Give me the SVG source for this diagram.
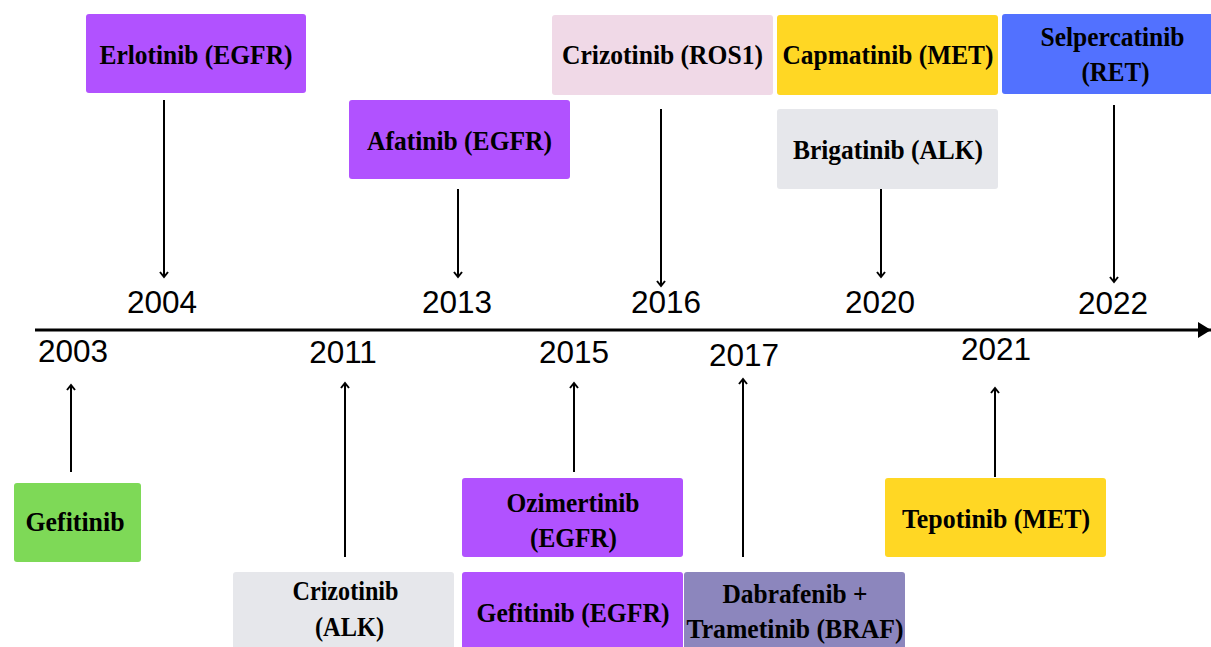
<svg xmlns="http://www.w3.org/2000/svg" width="1211" height="647" viewBox="0 0 1211 647">
<style>
.box{stroke:none}
.lbl{font-family:"Liberation Serif","Times New Roman",serif;font-weight:bold;font-size:27px;fill:#000;text-anchor:middle}
.yr{font-family:"Liberation Sans",Arial,sans-serif;font-size:31.5px;fill:#000;text-anchor:middle}
.conn{stroke:#000;stroke-width:2;fill:none;marker-end:url(#chev)}
.purple{fill:#b152ff}.green{fill:#7ed957}.yellow{fill:#ffd724}.blue{fill:#5271ff}.pink{fill:#f0d9e7}.gray{fill:#e6e7eb}.lav{fill:#8c86bd}
</style>
<defs>
<marker id="chev" markerUnits="userSpaceOnUse" markerWidth="12" markerHeight="12" refX="6" refY="5" orient="auto">
<path d="M1,1 L6,5 L1,9" fill="none" stroke="#000" stroke-width="2"/>
</marker>
<marker id="tri" markerUnits="userSpaceOnUse" markerWidth="14" markerHeight="16" refX="13" refY="8" orient="auto">
<path d="M0,0 L13,8 L0,16 Z" fill="#000"/>
</marker>
</defs>
<rect width="1211" height="647" fill="#fff"/>

<g id="connectors">
<line x1="35" y1="330" x2="1211" y2="330" stroke="#000" stroke-width="3" marker-end="url(#tri)"/>
<line class="conn" x1="164" y1="100" x2="164" y2="277"/>
<line class="conn" x1="458" y1="189" x2="458" y2="277"/>
<line class="conn" x1="661" y1="109" x2="661" y2="286"/>
<line class="conn" x1="881" y1="189" x2="881" y2="277"/>
<line class="conn" x1="1114" y1="105" x2="1114" y2="282"/>
<line class="conn" x1="71" y1="472" x2="71" y2="385"/>
<line class="conn" x1="345" y1="557" x2="345" y2="383"/>
<line class="conn" x1="574" y1="472" x2="574" y2="383"/>
<line class="conn" x1="743" y1="557" x2="743" y2="379"/>
<line class="conn" x1="995" y1="477" x2="995" y2="388"/>
</g>

<g id="years">
<text class="yr" x="162" y="313">2004</text>
<text class="yr" x="457" y="313">2013</text>
<text class="yr" x="666" y="313">2016</text>
<text class="yr" x="880" y="313">2020</text>
<text class="yr" x="1113" y="314">2022</text>
<text class="yr" x="73" y="362">2003</text>
<text class="yr" x="343" y="363">2011</text>
<text class="yr" x="574" y="363">2015</text>
<text class="yr" x="744" y="366">2017</text>
<text class="yr" x="996" y="360">2021</text>
</g>

<g id="erlotinib">
<rect class="box purple" x="86" y="14" width="220" height="79" rx="3"/>
<text class="lbl" x="196" y="64" textLength="193" lengthAdjust="spacingAndGlyphs">Erlotinib (EGFR)</text>
</g>
<g id="afatinib">
<rect class="box purple" x="349" y="100" width="221" height="79" rx="3"/>
<text class="lbl" x="459.5" y="150" textLength="185" lengthAdjust="spacingAndGlyphs">Afatinib (EGFR)</text>
</g>
<g id="crizotinib-ros1">
<rect class="box pink" x="552" y="15" width="221" height="80" rx="3"/>
<text class="lbl" x="662.5" y="64" textLength="201" lengthAdjust="spacingAndGlyphs">Crizotinib (ROS1)</text>
</g>
<g id="capmatinib">
<rect class="box yellow" x="777" y="15" width="221" height="80" rx="3"/>
<text class="lbl" x="888" y="64" textLength="211" lengthAdjust="spacingAndGlyphs">Capmatinib (MET)</text>
</g>
<g id="selpercatinib">
<rect class="box blue" x="1002" y="14" width="212" height="80" rx="3"/>
<text class="lbl" x="1112.5" y="46" textLength="144" lengthAdjust="spacingAndGlyphs">Selpercatinib</text>
<text class="lbl" x="1115.5" y="81" textLength="68" lengthAdjust="spacingAndGlyphs">(RET)</text>
</g>
<g id="brigatinib">
<rect class="box gray" x="777" y="109" width="221" height="80" rx="3"/>
<text class="lbl" x="888" y="159" textLength="190" lengthAdjust="spacingAndGlyphs">Brigatinib (ALK)</text>
</g>
<g id="gefitinib">
<rect class="box green" x="14" y="483" width="127" height="79" rx="3"/>
<text class="lbl" x="75" y="531" textLength="99" lengthAdjust="spacingAndGlyphs">Gefitinib</text>
</g>
<g id="crizotinib-alk">
<rect class="box gray" x="233" y="572" width="221" height="80" rx="3"/>
<text class="lbl" x="345.5" y="600" textLength="106" lengthAdjust="spacingAndGlyphs">Crizotinib</text>
<text class="lbl" x="349.5" y="636" textLength="69" lengthAdjust="spacingAndGlyphs">(ALK)</text>
</g>
<g id="ozimertinib">
<rect class="box purple" x="462" y="478" width="221" height="79" rx="3"/>
<text class="lbl" x="573" y="512" textLength="133" lengthAdjust="spacingAndGlyphs">Ozimertinib</text>
<text class="lbl" x="573.5" y="547" textLength="87" lengthAdjust="spacingAndGlyphs">(EGFR)</text>
</g>
<g id="gefitinib-egfr">
<rect class="box purple" x="462" y="572" width="221" height="80" rx="3"/>
<text class="lbl" x="573" y="622" textLength="193" lengthAdjust="spacingAndGlyphs">Gefitinib (EGFR)</text>
</g>
<g id="dabrafenib">
<rect class="box lav" x="684" y="572" width="221" height="80" rx="3"/>
<text class="lbl" x="795" y="603" textLength="145" lengthAdjust="spacingAndGlyphs">Dabrafenib +</text>
<text class="lbl" x="795" y="638" textLength="217" lengthAdjust="spacingAndGlyphs">Trametinib (BRAF)</text>
</g>
<g id="tepotinib">
<rect class="box yellow" x="885" y="478" width="221" height="79" rx="3"/>
<text class="lbl" x="996" y="528" textLength="188" lengthAdjust="spacingAndGlyphs">Tepotinib (MET)</text>
</g>
</svg>
